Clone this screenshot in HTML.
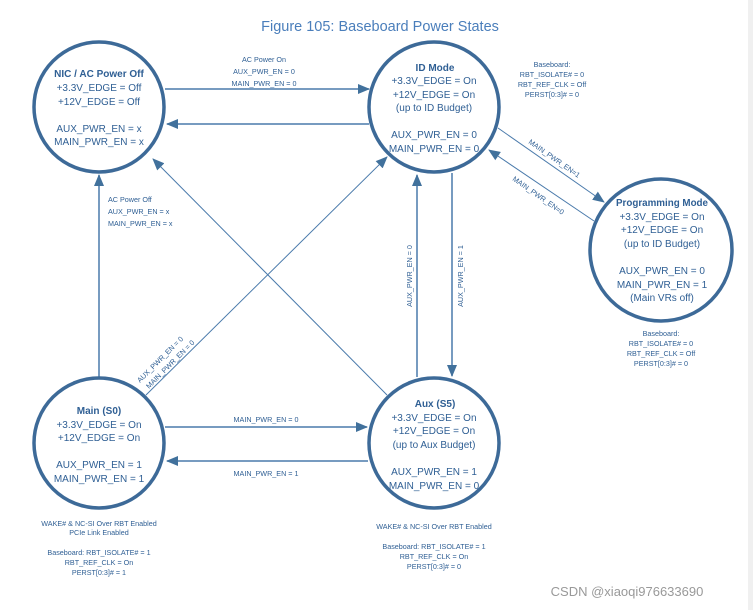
<!DOCTYPE html>
<html><head><meta charset="utf-8"><style>
html,body{margin:0;padding:0;background:#fff;}
svg{display:block;}
text{font-family:"Liberation Sans",sans-serif;fill:#2f5f94;}
</style></head><body>
<svg width="753" height="610" viewBox="0 0 753 610" xmlns="http://www.w3.org/2000/svg">
<defs>
<marker id="a" markerWidth="12" markerHeight="10" refX="11" refY="5" orient="auto" markerUnits="userSpaceOnUse">
<path d="M0,0 L12,5 L0,10 Z" fill="#41719c"/>
</marker>
</defs>
<rect x="748" y="0" width="5" height="610" fill="#f0f0f0"/>
<text x="380" y="31" font-size="14.5" text-anchor="middle" style="fill:#4a7ebb">Figure 105: Baseboard Power States</text>

<g stroke="#4a7aab" stroke-width="1.5" fill="none">
<line x1="165" y1="89" x2="369" y2="89" marker-end="url(#a)"/>
<line x1="369" y1="124" x2="167" y2="124" marker-end="url(#a)"/>
<line x1="99" y1="377" x2="99" y2="175" marker-end="url(#a)"/>
<line x1="417" y1="377" x2="417" y2="175" marker-end="url(#a)"/>
<line x1="452" y1="173" x2="452" y2="376" marker-end="url(#a)"/>
<line x1="165" y1="427" x2="367" y2="427" marker-end="url(#a)"/>
<line x1="368" y1="461" x2="167" y2="461" marker-end="url(#a)"/>
</g>
<g stroke="#4a7aab" stroke-width="1" fill="none">
<line x1="387" y1="395" x2="153" y2="159" marker-end="url(#a)"/>
<line x1="146" y1="395" x2="387" y2="157" marker-end="url(#a)"/>
<line x1="498" y1="128" x2="604" y2="202" marker-end="url(#a)"/>
<line x1="594" y1="221" x2="489" y2="150" marker-end="url(#a)"/>
</g>

<g stroke="#3d6a98" stroke-width="3.5" fill="none">
<circle cx="99" cy="107" r="65"/>
<circle cx="434" cy="107" r="65"/>
<circle cx="661" cy="250" r="71"/>
<circle cx="99" cy="443" r="65"/>
<circle cx="434" cy="443" r="65"/>
</g>

<g font-size="10" text-anchor="middle">
<text x="99" y="77" font-weight="bold">NIC / AC Power Off</text>
<text x="99" y="91">+3.3V_EDGE = Off</text>
<text x="99" y="105">+12V_EDGE = Off</text>
<text x="99" y="132">AUX_PWR_EN = x</text>
<text x="99" y="145">MAIN_PWR_EN = x</text>

<text x="435" y="71" font-weight="bold">ID Mode</text>
<text x="434" y="84">+3.3V_EDGE = On</text>
<text x="434" y="98">+12V_EDGE = On</text>
<text x="434" y="111">(up to ID Budget)</text>
<text x="434" y="138">AUX_PWR_EN = 0</text>
<text x="434" y="152">MAIN_PWR_EN = 0</text>

<text x="662" y="206" font-weight="bold" textLength="92" lengthAdjust="spacingAndGlyphs">Programming Mode</text>
<text x="662" y="220">+3.3V_EDGE = On</text>
<text x="662" y="233">+12V_EDGE = On</text>
<text x="662" y="247">(up to ID Budget)</text>
<text x="662" y="274">AUX_PWR_EN = 0</text>
<text x="662" y="288">MAIN_PWR_EN = 1</text>
<text x="662" y="301">(Main VRs off)</text>

<text x="99" y="414" font-weight="bold">Main (S0)</text>
<text x="99" y="428">+3.3V_EDGE = On</text>
<text x="99" y="441">+12V_EDGE = On</text>
<text x="99" y="468">AUX_PWR_EN = 1</text>
<text x="99" y="482">MAIN_PWR_EN = 1</text>

<text x="435" y="407" font-weight="bold">Aux (S5)</text>
<text x="434" y="421">+3.3V_EDGE = On</text>
<text x="434" y="434">+12V_EDGE = On</text>
<text x="434" y="448">(up to Aux Budget)</text>
<text x="434" y="475">AUX_PWR_EN = 1</text>
<text x="434" y="489">MAIN_PWR_EN = 0</text>
</g>

<g font-size="7.2">
<text x="264" y="62" text-anchor="middle">AC Power On</text>
<text x="264" y="74" text-anchor="middle">AUX_PWR_EN = 0</text>
<text x="264" y="86" text-anchor="middle">MAIN_PWR_EN = 0</text>

<text x="108" y="202">AC Power Off</text>
<text x="108" y="214">AUX_PWR_EN = x</text>
<text x="108" y="226">MAIN_PWR_EN = x</text>

<text x="552" y="67" text-anchor="middle">Baseboard:</text>
<text x="552" y="77" text-anchor="middle">RBT_ISOLATE# = 0</text>
<text x="552" y="87" text-anchor="middle">RBT_REF_CLK = Off</text>
<text x="552" y="97" text-anchor="middle">PERST[0:3]# = 0</text>

<text x="661" y="336" text-anchor="middle">Baseboard:</text>
<text x="661" y="346" text-anchor="middle">RBT_ISOLATE# = 0</text>
<text x="661" y="356" text-anchor="middle">RBT_REF_CLK = Off</text>
<text x="661" y="366" text-anchor="middle">PERST[0:3]# = 0</text>

<text x="266" y="422" text-anchor="middle">MAIN_PWR_EN = 0</text>
<text x="266" y="476" text-anchor="middle">MAIN_PWR_EN = 1</text>

<text x="99" y="526" text-anchor="middle">WAKE# &amp; NC-SI Over RBT Enabled</text>
<text x="99" y="535" text-anchor="middle">PCIe Link Enabled</text>
<text x="99" y="555" text-anchor="middle">Baseboard: RBT_ISOLATE# = 1</text>
<text x="99" y="565" text-anchor="middle">RBT_REF_CLK = On</text>
<text x="99" y="575" text-anchor="middle">PERST[0:3]# = 1</text>

<text x="434" y="529" text-anchor="middle">WAKE# &amp; NC-SI Over RBT Enabled</text>
<text x="434" y="549" text-anchor="middle">Baseboard: RBT_ISOLATE# = 1</text>
<text x="434" y="559" text-anchor="middle">RBT_REF_CLK = On</text>
<text x="434" y="569" text-anchor="middle">PERST[0:3]# = 0</text>

<text transform="translate(412,276) rotate(-90)" text-anchor="middle">AUX_PWR_EN = 0</text>
<text transform="translate(463,276) rotate(-90)" text-anchor="middle">AUX_PWR_EN = 1</text>

<text transform="translate(140,383) rotate(-45)">AUX_PWR_EN = 0</text>
<text transform="translate(149,389) rotate(-45)">MAIN_PWR_EN = 0</text>

<text transform="translate(528,143) rotate(35)">MAIN_PWR_EN=1</text>
<text transform="translate(512,180) rotate(35)">MAIN_PWR_EN=0</text>
</g>

<text x="627" y="596" font-size="13" text-anchor="middle" style="fill:#999">CSDN @xiaoqi976633690</text>
</svg>
</body></html>
